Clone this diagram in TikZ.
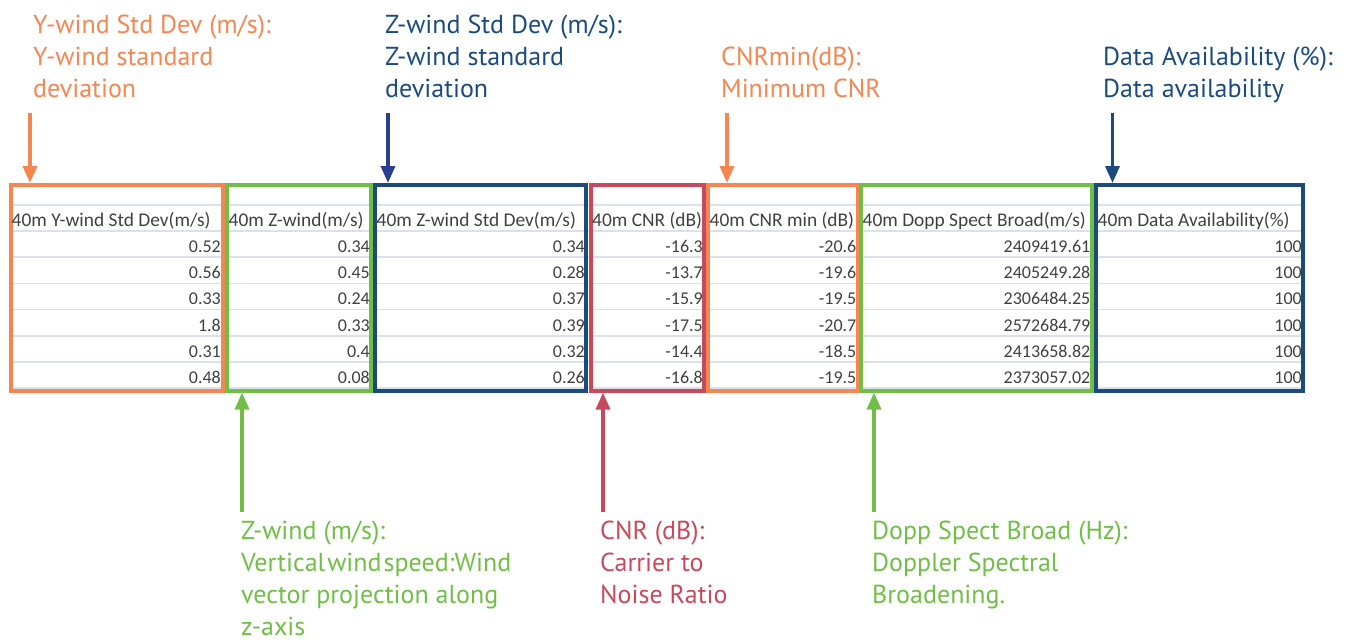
\documentclass[tikz,border=0pt]{standalone}
\usepackage{fontspec}
\setmainfont{PT Sans}
\newfontfamily\tabfont{Carlito}
\usetikzlibrary{arrows.meta}
\definecolor{corange}{RGB}{244,134,82}
\definecolor{cgreen}{RGB}{112,190,70}
\definecolor{cblue}{RGB}{27,75,126}
\definecolor{cbluearrow}{RGB}{44,62,143}
\definecolor{cred}{RGB}{200,73,92}
\definecolor{cgrid}{RGB}{220,224,234}
\definecolor{ctext}{RGB}{64,64,64}
\tikzset{
  lbl/.style={anchor=base west, align=left, inner sep=0pt, font=\fontsize{26}{32}\selectfont},
  colbox/.style={draw=#1, line width=4pt, inner sep=0pt, minimum height=205.5pt},
  arr/.style={line width=3.5pt, -{Triangle[length=17pt,width=14pt]}},
  hdr/.style={anchor=base west, inner sep=0pt, text=ctext, font=\tabfont\fontsize{19.4}{22}\selectfont},
  val/.style={anchor=base east, inner sep=0pt, text=ctext, font=\tabfont\fontsize{18}{20}\selectfont},
  gridline/.style={draw=cgrid, line width=1.6pt}
}
\begin{document}
\begin{tikzpicture}[x=1pt,y=-1pt]
\useasboundingbox (0,0) rectangle (1346,641);
% grid lines
\foreach \k in {0,...,7} {
  \coordinate (gl\k) at (10,205+26.14*\k);
  \coordinate (gr\k) at (1303,205+26.14*\k);
  \draw[gridline] (gl\k) -- (gr\k);
}
% column boxes
\node[colbox=corange, minimum width=211.5pt] (c1) at (116.75,287.75) {};
\node[colbox=cgreen, minimum width=144pt] (c2) at (299,287.75) {};
\node[colbox=cblue, minimum width=211pt] (c3) at (480.5,287.75) {};
\node[colbox=cred, minimum width=113.5pt] (c4) at (647.25,287.75) {};
\node[colbox=corange, minimum width=149.5pt] (c5) at (782.75,287.75) {};
\node[colbox=cgreen, minimum width=230.5pt] (c6) at (976.25,287.75) {};
\node[colbox=cblue, minimum width=207pt] (c7) at (1199.5,287.75) {};
% headers
\node[hdr] (h1) at (11.5,226) {40m Y-wind Std Dev(m/s)};
\node[hdr] (h2) at (228.5,226) {40m Z-wind(m/s)};
\node[hdr] (h3) at (376.5,226) {40m Z-wind Std Dev(m/s)};
\node[hdr] (h4) at (592,226) {40m CNR (dB)};
\node[hdr] (h5) at (709.5,226) {40m CNR min (dB)};
\node[hdr] (h6) at (862.5,226) {40m Dopp Spect Broad(m/s)};
\node[hdr] (h7) at (1097.5,226) {40m Data Availability(\%)};
% values
\foreach \v [count=\i] in {0.52,0.56,0.33,1.8,0.31,0.48}
  \node[val] (v1-\i) at (221,226.5+26.14*\i) {\v};
\foreach \v [count=\i] in {0.34,0.45,0.24,0.33,0.4,0.08}
  \node[val] (v2-\i) at (370,226.5+26.14*\i) {\v};
\foreach \v [count=\i] in {0.34,0.28,0.37,0.39,0.32,0.26}
  \node[val] (v3-\i) at (585,226.5+26.14*\i) {\v};
\foreach \v [count=\i] in {-16.3,-13.7,-15.9,-17.5,-14.4,-16.8}
  \node[val] (v4-\i) at (703,226.5+26.14*\i) {\v};
\foreach \v [count=\i] in {-20.6,-19.6,-19.5,-20.7,-18.5,-19.5}
  \node[val] (v5-\i) at (856.5,226.5+26.14*\i) {\v};
\foreach \v [count=\i] in {2409419.61,2405249.28,2306484.25,2572684.79,2413658.82,2373057.02}
  \node[val] (v6-\i) at (1090.5,226.5+26.14*\i) {\v};
\foreach \v [count=\i] in {100,100,100,100,100,100}
  \node[val] (v7-\i) at (1302,226.5+26.14*\i) {\v};
% labels (anchor = baseline of last line)
\node[lbl, text=corange] (l1) at (33,97) {Y-wind Std Dev (m/s):\\Y-wind standard\\deviation};
\node[lbl, text=cblue] (l3) at (385,97) {Z-wind Std Dev (m/s):\\Z-wind standard\\deviation};
\node[lbl, text=corange] (l5) at (721,97) {CNRmin(dB):\\Minimum CNR};
\node[lbl, text=cblue] (l7) at (1103,97) {Data Availability (\%):\\Data availability};
\node[lbl, text=cgreen] (l2) at (241,635) {Z-wind (m/s):\\{\spaceskip=0.08em Vertical wind speed:Wind}\\vector projection along\\z-axis};
\node[lbl, text=cred] (l4) at (600,603) {CNR (dB):\\Carrier to\\Noise Ratio};
\node[lbl, text=cgreen] (l6) at (872,603) {Dopp Spect Broad (Hz):\\Doppler Spectral\\Broadening.};
% arrows
\coordinate (a1) at (30,113);
\coordinate (a3) at (388,113);
\coordinate (a5) at (727,113);
\coordinate (a7) at (1112.5,113);
\coordinate (a2) at (242,512);
\coordinate (a4) at (603,512);
\coordinate (a6) at (874,512);
\draw[arr, draw=corange] (a1) -- (a1 |- c1.north);
\draw[arr, draw=cbluearrow] (a3) -- (a3 |- c3.north);
\draw[arr, draw=corange] (a5) -- (a5 |- c5.north);
\draw[arr, draw=cblue] (a7) -- (a7 |- c7.north);
\draw[arr, draw=cgreen] (a2) -- (a2 |- c2.south);
\draw[arr, draw=cred] (a4) -- (a4 |- c4.south);
\draw[arr, draw=cgreen] (a6) -- (a6 |- c6.south);
\end{tikzpicture}
\end{document}
